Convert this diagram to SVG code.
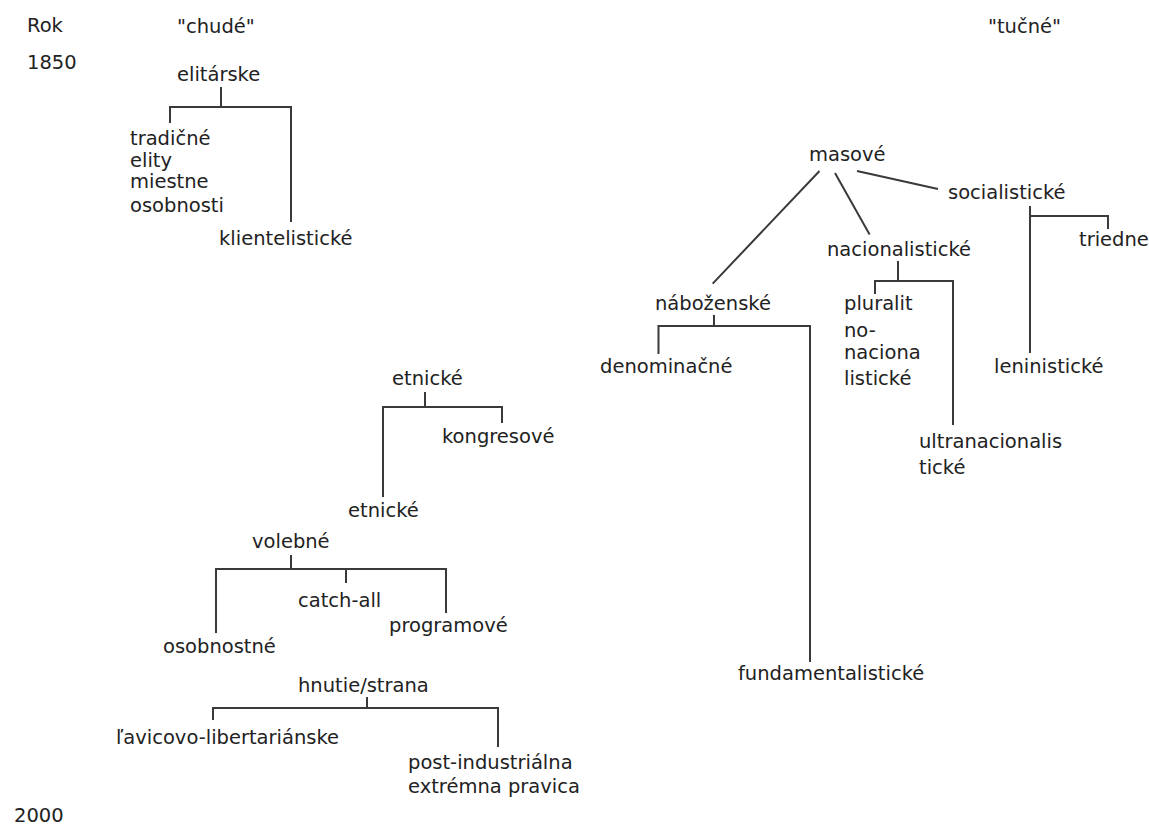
<svg xmlns="http://www.w3.org/2000/svg" width="1149" height="826" viewBox="0 0 1149 826">
<style>
text{font-family:"DejaVu Sans",Verdana,sans-serif;font-size:19.5px;fill:#222}
.c{fill:none;stroke:#3a3a3a;stroke-width:2}
</style>
<rect width="1149" height="826" fill="#fff"/>
<g id="axis">
<text x="27" y="32">Rok</text>
<text x="27" y="69">1850</text>
<text x="14" y="822">2000</text>
</g>
<g id="hdr-chude"><text x="177" y="33">"chudé"</text></g>
<g id="hdr-tucne"><text x="988" y="33">"tučné"</text></g>
<g id="n-elitarske"><text x="177" y="81">elitárske</text></g>
<g id="n-tradicne"><text x="130" y="145">tradičné</text><text x="130" y="167">elity</text><text x="130" y="188">miestne</text><text x="130" y="212">osobnosti</text></g>
<g id="n-klientelisticke"><text x="219" y="245">klientelistické</text></g>
<g id="n-masove"><text x="809" y="161">masové</text></g>
<g id="n-socialisticke"><text x="948" y="199">socialistické</text></g>
<g id="n-triedne"><text x="1079" y="246">triedne</text></g>
<g id="n-leninisticke"><text x="994" y="373">leninistické</text></g>
<g id="n-nacionalisticke"><text x="827" y="256">nacionalistické</text></g>
<g id="n-pluralitno"><text x="844" y="310">pluralit</text><text x="844" y="337">no-</text><text x="844" y="359">naciona</text><text x="844" y="385">listické</text></g>
<g id="n-ultra"><text x="919" y="448">ultranacionalis</text><text x="919" y="474">tické</text></g>
<g id="n-nabozenske"><text x="655" y="310">náboženské</text></g>
<g id="n-denominacne"><text x="600" y="373">denominačné</text></g>
<g id="n-fundamentalisticke"><text x="738" y="680">fundamentalistické</text></g>
<g id="n-etnicke1"><text x="392" y="385">etnické</text></g>
<g id="n-kongresove"><text x="442" y="443">kongresové</text></g>
<g id="n-etnicke2"><text x="348" y="517">etnické</text></g>
<g id="n-volebne"><text x="252" y="548">volebné</text></g>
<g id="n-catchall"><text x="298" y="607">catch-all</text></g>
<g id="n-programove"><text x="389" y="632">programové</text></g>
<g id="n-osobnostne"><text x="163" y="653">osobnostné</text></g>
<g id="n-hnutie"><text x="298" y="692">hnutie/strana</text></g>
<g id="n-lavicovo"><text x="116" y="744">ľavicovo-libertariánske</text></g>
<g id="n-postind"><text x="408" y="769">post-industriálna</text><text x="408" y="793">extrémna pravica</text></g>
<g id="connectors" class="c">
<path class="c" d="M221 87V107M170 123V107H291V222"/>
<path class="c" d="M819.5 171L712.7 283.6M835 173L869.6 234.5M857 171L938 189"/>
<path class="c" d="M1030 206V353M1030 216H1108V229"/>
<path class="c" d="M898 261V281M875 294V281H953V425"/>
<path class="c" d="M714 315V326M658.5 354V326H810V662"/>
<path class="c" d="M425 392V407M383 497V407H502V423"/>
<path class="c" d="M291 555V569M216 633V569H446V613M346 569V583"/>
<path class="c" d="M367 697V708M213 720V708H498V747"/>
</g>
</svg>
